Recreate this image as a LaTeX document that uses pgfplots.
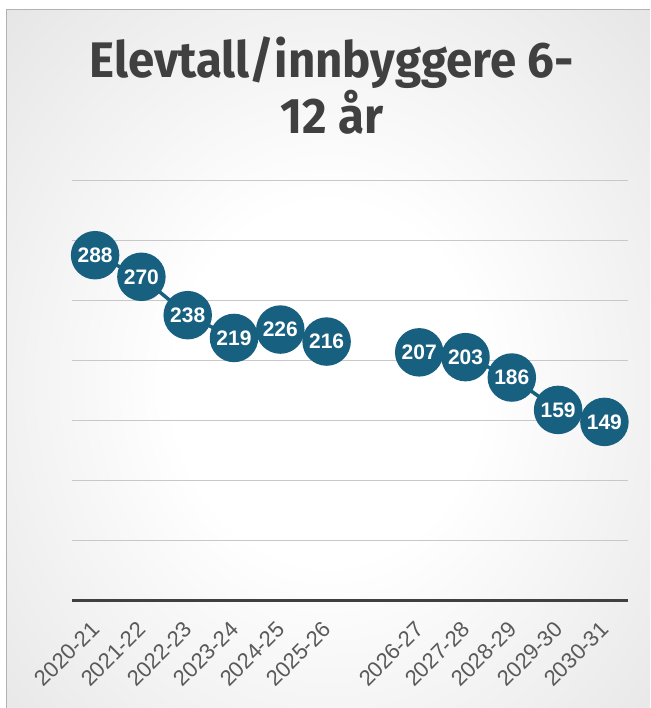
\documentclass[border=0pt]{standalone}
\usepackage{fontspec}
\setmainfont{Liberation Sans}
\newfontfamily\titlefont[FakeStretch=0.95]{Fira Sans}
\usepackage{pgfplots}
\pgfplotsset{compat=1.18}
\definecolor{mk}{RGB}{23,96,128}
\definecolor{ttl}{RGB}{64,64,64}
\definecolor{tck}{RGB}{89,89,89}
\definecolor{grd}{RGB}{200,200,200}
\definecolor{edge}{RGB}{192,192,192}
\pgfdeclareradialshading{bg}{\pgfpoint{0bp}{0bp}}{color(0bp)=(white); color(12bp)=(white); color(71bp)=(edge)}
\begin{document}
\begin{tikzpicture}[x=1pt,y=1pt]
\fill[white] (0,0) rectangle (650,708);
\begin{scope}
\clip (7,0) rectangle (650,698);
\shade[shading=bg] (7,-50) rectangle (650,698);
\end{scope}
\draw[gray!60, line width=1pt] (7,0) -- (7,698) -- (650,698);
\node[anchor=base, text=ttl, font=\titlefont\bfseries\fontsize{50}{50}\selectfont] at (332,630) {Elevtall/innbyggere 6-};
\node[anchor=base, text=ttl, font=\titlefont\bfseries\fontsize{50}{50}\selectfont] at (332,574) {12 år};
\begin{axis}[
  at={(72pt,107pt)}, anchor=south west,
  scale only axis, width=556pt, height=420pt,
  xmin=-0.5, xmax=11.5, ymin=0, ymax=350,
  axis line style={draw=none},
  major tick length=0pt,
  ytick={50,100,...,350}, yticklabels={},
  ymajorgrids, grid style={grd, line width=1pt},
  xtick={0,1,2,3,4,5,7,8,9,10,11},
  xticklabels={2020-21,2021-22,2022-23,2023-24,2024-25,2025-26,2026-27,2027-28,2028-29,2029-30,2030-31},
  xticklabel style={xshift=-5pt, yshift=-19pt, rotate=45, anchor=north east, inner sep=0pt, font=\fontsize{22}{22}\selectfont, text=tck},
  clip=false,
  /pgf/number format/assume math mode=true,
  nodes near coords,
  every node near coord/.append style={anchor=center, text=white, font=\bfseries\fontsize{21}{21}\selectfont},
]
\draw[ttl, line width=3pt] (axis cs:-0.5,0) -- (axis cs:11.5,0);
\addplot[mk, line width=3.5pt, mark=*, mark size=22.5pt, mark options={fill=mk, draw=none}]
  coordinates {(0,288) (1,270) (2,238) (3,219) (4,226) (5,216)};
\addplot[mk, line width=3.5pt, mark=*, mark size=22.5pt, mark options={fill=mk, draw=none}]
  coordinates {(7,207) (8,203) (9,186) (10,159) (11,149)};
\end{axis}
\end{tikzpicture}
\end{document}
